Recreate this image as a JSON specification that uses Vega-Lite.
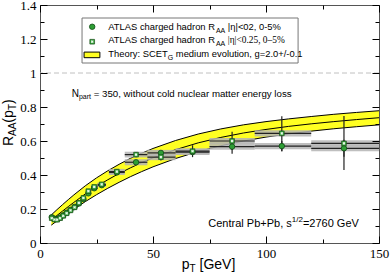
{
  "$schema": "https://vega.github.io/schema/vega-lite/v6.json",
  "autosize": "none",
  "width": 339,
  "height": 238,
  "padding": {"left": 40, "top": 5, "right": 11, "bottom": 34},
  "background": "white",
  "config": {"view": {"stroke": "#555555", "strokeWidth": 1}, "text": {"font": "Liberation Sans", "color": "black"}},
  "datasets": {
    "one": [{}],
    "band": [
      {"pt": 5, "lo": 0.105, "mid": 0.135, "hi": 0.165},
      {"pt": 7.5, "lo": 0.130, "mid": 0.162, "hi": 0.196},
      {"pt": 10, "lo": 0.153, "mid": 0.188, "hi": 0.226},
      {"pt": 12.5, "lo": 0.176, "mid": 0.214, "hi": 0.255},
      {"pt": 15, "lo": 0.199, "mid": 0.239, "hi": 0.283},
      {"pt": 20, "lo": 0.243, "mid": 0.288, "hi": 0.336},
      {"pt": 25, "lo": 0.284, "mid": 0.332, "hi": 0.383},
      {"pt": 30, "lo": 0.322, "mid": 0.372, "hi": 0.425},
      {"pt": 35, "lo": 0.357, "mid": 0.409, "hi": 0.463},
      {"pt": 40, "lo": 0.390, "mid": 0.442, "hi": 0.498},
      {"pt": 45, "lo": 0.420, "mid": 0.473, "hi": 0.528},
      {"pt": 50, "lo": 0.448, "mid": 0.501, "hi": 0.556},
      {"pt": 60, "lo": 0.497, "mid": 0.549, "hi": 0.603},
      {"pt": 70, "lo": 0.538, "mid": 0.589, "hi": 0.641},
      {"pt": 80, "lo": 0.572, "mid": 0.621, "hi": 0.671},
      {"pt": 90, "lo": 0.600, "mid": 0.647, "hi": 0.695},
      {"pt": 100, "lo": 0.623, "mid": 0.668, "hi": 0.714},
      {"pt": 110, "lo": 0.642, "mid": 0.686, "hi": 0.730},
      {"pt": 120, "lo": 0.658, "mid": 0.701, "hi": 0.744},
      {"pt": 130, "lo": 0.672, "mid": 0.714, "hi": 0.757},
      {"pt": 140, "lo": 0.684, "mid": 0.726, "hi": 0.768},
      {"pt": 150, "lo": 0.695, "mid": 0.737, "hi": 0.778}
    ],
    "pts": [
      {"s": "a", "pt": 5.2, "xlo": 4.7, "xhi": 5.8, "r": 0.152, "lo": 0.148, "hi": 0.156, "slo": 0.144, "shi": 0.160},
      {"s": "a", "pt": 6.4, "xlo": 5.8, "xhi": 7.0, "r": 0.143, "lo": 0.139, "hi": 0.147, "slo": 0.135, "shi": 0.151},
      {"s": "a", "pt": 7.6, "xlo": 7.0, "xhi": 8.2, "r": 0.141, "lo": 0.137, "hi": 0.145, "slo": 0.133, "shi": 0.149},
      {"s": "a", "pt": 8.9, "xlo": 8.2, "xhi": 9.6, "r": 0.150, "lo": 0.146, "hi": 0.154, "slo": 0.142, "shi": 0.158},
      {"s": "a", "pt": 10.3, "xlo": 9.6, "xhi": 11.0, "r": 0.163, "lo": 0.159, "hi": 0.167, "slo": 0.155, "shi": 0.171},
      {"s": "a", "pt": 11.8, "xlo": 11.0, "xhi": 12.6, "r": 0.178, "lo": 0.174, "hi": 0.182, "slo": 0.170, "shi": 0.186},
      {"s": "a", "pt": 13.5, "xlo": 12.6, "xhi": 14.4, "r": 0.195, "lo": 0.191, "hi": 0.199, "slo": 0.187, "shi": 0.203},
      {"s": "a", "pt": 15.3, "xlo": 14.4, "xhi": 16.2, "r": 0.212, "lo": 0.208, "hi": 0.216, "slo": 0.204, "shi": 0.220},
      {"s": "a", "pt": 17.2, "xlo": 16.2, "xhi": 18.2, "r": 0.232, "lo": 0.228, "hi": 0.236, "slo": 0.224, "shi": 0.240},
      {"s": "a", "pt": 19.2, "xlo": 18.2, "xhi": 20.3, "r": 0.258, "lo": 0.254, "hi": 0.262, "slo": 0.250, "shi": 0.266},
      {"s": "a", "pt": 21.4, "xlo": 20.3, "xhi": 22.6, "r": 0.292, "lo": 0.288, "hi": 0.296, "slo": 0.283, "shi": 0.301},
      {"s": "a", "pt": 24.0, "xlo": 22.6, "xhi": 25.5, "r": 0.322, "lo": 0.318, "hi": 0.326, "slo": 0.313, "shi": 0.331},
      {"s": "a", "pt": 27.3, "xlo": 25.5, "xhi": 29.2, "r": 0.340, "lo": 0.335, "hi": 0.345, "slo": 0.330, "shi": 0.350},
      {"s": "a", "pt": 34.0, "xlo": 30.5, "xhi": 37.5, "r": 0.415, "lo": 0.407, "hi": 0.423, "slo": 0.400, "shi": 0.430},
      {"s": "a", "pt": 42.5, "xlo": 37.5, "xhi": 47.5, "r": 0.475, "lo": 0.465, "hi": 0.485, "slo": 0.457, "shi": 0.493},
      {"s": "a", "pt": 53.5, "xlo": 47.5, "xhi": 60, "r": 0.530, "lo": 0.518, "hi": 0.542, "slo": 0.512, "shi": 0.548},
      {"s": "a", "pt": 67.5, "xlo": 60, "xhi": 75, "r": 0.535, "lo": 0.520, "hi": 0.550, "slo": 0.517, "shi": 0.553},
      {"s": "a", "pt": 85, "xlo": 75, "xhi": 95, "r": 0.567, "lo": 0.547, "hi": 0.587, "slo": 0.549, "shi": 0.585},
      {"s": "a", "pt": 107, "xlo": 95, "xhi": 120, "r": 0.570, "lo": 0.540, "hi": 0.600, "slo": 0.552, "shi": 0.588},
      {"s": "a", "pt": 134.5, "xlo": 120, "xhi": 150, "r": 0.557, "lo": 0.507, "hi": 0.607, "slo": 0.539, "shi": 0.575},
      {"s": "b", "pt": 5.2, "xlo": 4.7, "xhi": 5.8, "r": 0.146, "lo": 0.141, "hi": 0.151, "slo": 0.138, "shi": 0.154},
      {"s": "b", "pt": 6.4, "xlo": 5.8, "xhi": 7.0, "r": 0.138, "lo": 0.133, "hi": 0.143, "slo": 0.130, "shi": 0.146},
      {"s": "b", "pt": 7.6, "xlo": 7.0, "xhi": 8.2, "r": 0.137, "lo": 0.132, "hi": 0.142, "slo": 0.129, "shi": 0.145},
      {"s": "b", "pt": 8.9, "xlo": 8.2, "xhi": 9.6, "r": 0.146, "lo": 0.141, "hi": 0.151, "slo": 0.138, "shi": 0.154},
      {"s": "b", "pt": 10.3, "xlo": 9.6, "xhi": 11.0, "r": 0.160, "lo": 0.155, "hi": 0.165, "slo": 0.152, "shi": 0.168},
      {"s": "b", "pt": 11.8, "xlo": 11.0, "xhi": 12.6, "r": 0.175, "lo": 0.170, "hi": 0.180, "slo": 0.167, "shi": 0.183},
      {"s": "b", "pt": 13.5, "xlo": 12.6, "xhi": 14.4, "r": 0.192, "lo": 0.187, "hi": 0.197, "slo": 0.184, "shi": 0.200},
      {"s": "b", "pt": 15.3, "xlo": 14.4, "xhi": 16.2, "r": 0.210, "lo": 0.205, "hi": 0.215, "slo": 0.202, "shi": 0.218},
      {"s": "b", "pt": 17.2, "xlo": 16.2, "xhi": 18.2, "r": 0.236, "lo": 0.231, "hi": 0.241, "slo": 0.228, "shi": 0.244},
      {"s": "b", "pt": 19.2, "xlo": 18.2, "xhi": 20.3, "r": 0.265, "lo": 0.260, "hi": 0.270, "slo": 0.257, "shi": 0.273},
      {"s": "b", "pt": 21.4, "xlo": 20.3, "xhi": 22.6, "r": 0.305, "lo": 0.300, "hi": 0.310, "slo": 0.296, "shi": 0.314},
      {"s": "b", "pt": 24.0, "xlo": 22.6, "xhi": 25.5, "r": 0.330, "lo": 0.325, "hi": 0.335, "slo": 0.321, "shi": 0.339},
      {"s": "b", "pt": 27.3, "xlo": 25.5, "xhi": 29.2, "r": 0.345, "lo": 0.339, "hi": 0.351, "slo": 0.335, "shi": 0.355},
      {"s": "b", "pt": 34.0, "xlo": 30.5, "xhi": 37.5, "r": 0.420, "lo": 0.408, "hi": 0.432, "slo": 0.404, "shi": 0.436},
      {"s": "b", "pt": 42.5, "xlo": 37.5, "xhi": 47.5, "r": 0.520, "lo": 0.505, "hi": 0.535, "slo": 0.503, "shi": 0.537},
      {"s": "b", "pt": 53.5, "xlo": 47.5, "xhi": 60, "r": 0.505, "lo": 0.485, "hi": 0.525, "slo": 0.487, "shi": 0.523},
      {"s": "b", "pt": 67.5, "xlo": 60, "xhi": 75, "r": 0.540, "lo": 0.505, "hi": 0.575, "slo": 0.522, "shi": 0.558},
      {"s": "b", "pt": 85, "xlo": 75, "xhi": 95, "r": 0.600, "lo": 0.525, "hi": 0.655, "slo": 0.582, "shi": 0.618},
      {"s": "b", "pt": 107, "xlo": 95, "xhi": 120, "r": 0.645, "lo": 0.540, "hi": 0.745, "slo": 0.627, "shi": 0.663},
      {"s": "b", "pt": 134.5, "xlo": 120, "xhi": 150, "r": 0.586, "lo": 0.430, "hi": 0.747, "slo": 0.568, "shi": 0.604}
    ]
  },
  "resolve": {"axis": {"x": "independent", "y": "independent"}},
  "layer": [
    {
      "data": {"name": "band"},
      "mark": {"type": "area", "color": "#ffff22", "opacity": 1},
      "encoding": {
        "x": {"field": "pt", "type": "quantitative", "scale": {"domain": [0, 150], "nice": false, "zero": false},
          "axis": {"orient": "bottom", "title": null, "domain": false, "grid": false, "zindex": 1, "ticks": true, "values": [0, 25, 50, 75, 100, 125, 150],
            "labelExpr": "datum.value % 50 == 0 ? datum.label : ''", "labelFlush": false, "labelOverlap": false,
            "labelFont": "Liberation Serif", "labelFontSize": 13, "labelColor": "black", "labelPadding": 11,
            "tickColor": "black", "tickWidth": 1, "tickSize": -7,
            "tickDash": {"condition": {"test": "datum.value % 50 == 0", "value": [20, 1]}, "value": [4, 20]}}},
        "y": {"field": "lo", "type": "quantitative", "scale": {"domain": [0, 1.4], "nice": false, "zero": false},
          "axis": {"orient": "left", "title": null, "domain": false, "grid": false, "zindex": 1, "ticks": true, "values": [0, 0.1, 0.2, 0.3, 0.4, 0.5, 0.6, 0.7, 0.8, 0.9, 1, 1.1, 1.2, 1.3, 1.4],
            "labelExpr": "round(datum.value*10) % 2 == 0 ? format(datum.value, '~g') : ''", "labelOverlap": false,
            "labelFont": "Liberation Serif", "labelFontSize": 13, "labelColor": "black", "labelPadding": 11,
            "tickColor": "black", "tickWidth": 1, "tickSize": -7,
            "tickDash": {"condition": {"test": "round(datum.value*10) % 2 == 0", "value": [20, 1]}, "value": [4, 20]}}},
        "y2": {"field": "hi"}
      }
    },
    {
      "data": {"name": "band"},
      "mark": {"type": "point", "opacity": 0},
      "encoding": {
        "x": {"field": "pt", "type": "quantitative",
          "axis": {"orient": "top", "title": null, "domain": false, "grid": false, "zindex": 1, "ticks": true, "labels": false, "values": [0, 25, 50, 75, 100, 125, 150],
            "tickColor": "black", "tickWidth": 1, "tickSize": -7,
            "tickDash": {"condition": {"test": "datum.value % 50 == 0", "value": [20, 1]}, "value": [4, 20]}}},
        "y": {"field": "hi", "type": "quantitative",
          "axis": {"orient": "right", "title": null, "domain": false, "grid": false, "zindex": 1, "ticks": true, "labels": false, "values": [0, 0.1, 0.2, 0.3, 0.4, 0.5, 0.6, 0.7, 0.8, 0.9, 1, 1.1, 1.2, 1.3, 1.4],
            "tickColor": "black", "tickWidth": 1, "tickSize": -7,
            "tickDash": {"condition": {"test": "round(datum.value*10) % 2 == 0", "value": [20, 1]}, "value": [4, 20]}}}
      }
    },
    {
      "data": {"name": "band"},
      "mark": {"type": "line", "color": "black", "strokeWidth": 1},
      "encoding": {"x": {"field": "pt", "type": "quantitative", "axis": null}, "y": {"field": "lo", "type": "quantitative", "axis": null}}
    },
    {
      "data": {"name": "band"},
      "mark": {"type": "line", "color": "black", "strokeWidth": 1},
      "encoding": {"x": {"field": "pt", "type": "quantitative", "axis": null}, "y": {"field": "mid", "type": "quantitative", "axis": null}}
    },
    {
      "data": {"name": "band"},
      "mark": {"type": "line", "color": "black", "strokeWidth": 1},
      "encoding": {"x": {"field": "pt", "type": "quantitative", "axis": null}, "y": {"field": "hi", "type": "quantitative", "axis": null}}
    },
    {
      "data": {"name": "one"},
      "mark": {"type": "rule", "color": "#c0c0c0", "strokeDash": [5, 3], "strokeWidth": 1},
      "encoding": {"y": {"datum": 1, "axis": null}}
    },
    {
      "data": {"name": "pts"},
      "mark": {"type": "rect", "color": "#b4b4b4", "opacity": 0.85},
      "encoding": {
        "x": {"field": "xlo", "type": "quantitative", "axis": null}, "x2": {"field": "xhi"},
        "y": {"field": "slo", "type": "quantitative", "axis": null}, "y2": {"field": "shi"}
      }
    },
    {
      "data": {"name": "pts"},
      "mark": {"type": "rule", "color": "#222222", "strokeWidth": 1.2},
      "encoding": {
        "x": {"field": "xlo", "type": "quantitative", "axis": null}, "x2": {"field": "xhi"},
        "y": {"field": "r", "type": "quantitative", "axis": null}
      }
    },
    {
      "data": {"name": "pts"},
      "mark": {"type": "rule", "color": "#222222", "strokeWidth": 1.2},
      "encoding": {
        "x": {"field": "pt", "type": "quantitative", "axis": null},
        "y": {"field": "lo", "type": "quantitative", "axis": null}, "y2": {"field": "hi"}
      }
    },
    {
      "data": {"name": "pts"},
      "transform": [{"filter": "datum.s == 'a'"}],
      "mark": {"type": "point", "shape": "circle", "filled": true, "fill": "#2e9e35", "stroke": "#0f4a14", "strokeWidth": 0.8, "size": 30, "opacity": 1},
      "encoding": {"x": {"field": "pt", "type": "quantitative", "axis": null}, "y": {"field": "r", "type": "quantitative", "axis": null}}
    },
    {
      "data": {"name": "pts"},
      "transform": [{"filter": "datum.s == 'b'"}],
      "mark": {"type": "point", "shape": "square", "filled": true, "fill": "#3aa83f", "stroke": "#1a4d1a", "strokeWidth": 0.7, "size": 22, "opacity": 1},
      "encoding": {"x": {"field": "pt", "type": "quantitative", "axis": null}, "y": {"field": "r", "type": "quantitative", "axis": null}}
    },
    {
      "data": {"name": "pts"},
      "transform": [{"filter": "datum.s == 'b'"}],
      "mark": {"type": "point", "shape": "cross", "filled": true, "fill": "white", "strokeWidth": 0, "size": 8, "angle": 45, "opacity": 0.9},
      "encoding": {"x": {"field": "pt", "type": "quantitative", "axis": null}, "y": {"field": "r", "type": "quantitative", "axis": null}}
    },
    {
      "data": {"name": "one"},
      "mark": {"type": "rect", "fill": "white", "stroke": "#777777", "strokeWidth": 1},
      "encoding": {"x": {"datum": 18.6, "axis": null}, "x2": {"datum": 114.2}, "y": {"datum": 1.0588, "axis": null}, "y2": {"datum": 1.3235}}
    },
    {
      "data": {"name": "one"},
      "mark": {"type": "point", "shape": "circle", "filled": true, "fill": "#2e9e35", "stroke": "#0f4a14", "strokeWidth": 0.8, "size": 30, "opacity": 1},
      "encoding": {"x": {"datum": 23.1, "axis": null}, "y": {"datum": 1.272, "axis": null}}
    },
    {
      "data": {"name": "one"},
      "mark": {"type": "point", "shape": "square", "filled": true, "fill": "#3aa83f", "stroke": "#1a4d1a", "strokeWidth": 0.7, "size": 22, "opacity": 1},
      "encoding": {"x": {"datum": 23.1, "axis": null}, "y": {"datum": 1.184, "axis": null}}
    },
    {
      "data": {"name": "one"},
      "mark": {"type": "point", "shape": "cross", "filled": true, "fill": "white", "strokeWidth": 0, "size": 8, "angle": 45, "opacity": 0.9},
      "encoding": {"x": {"datum": 23.1, "axis": null}, "y": {"datum": 1.184, "axis": null}}
    },
    {
      "data": {"name": "one"},
      "mark": {"type": "rect", "fill": "#ffff22", "stroke": "black", "strokeWidth": 1},
      "encoding": {"x": {"datum": 19.5, "axis": null}, "x2": {"datum": 26.5}, "y": {"datum": 1.090, "axis": null}, "y2": {"datum": 1.123}}
    },
    {
      "data": {"name": "one"},
      "mark": {"type": "text", "align": "left", "baseline": "alphabetic", "fontSize": 9.4, "text": "ATLAS charged hadron R"},
      "encoding": {"x": {"datum": 30.22, "axis": null}, "y": {"datum": 1.253, "axis": null}}
    },
    {
      "data": {"name": "one"},
      "mark": {"type": "text", "align": "left", "baseline": "alphabetic", "fontSize": 7, "text": "AA"},
      "encoding": {"x": {"datum": 77.83, "axis": null}, "y": {"datum": 1.238, "axis": null}}
    },
    {
      "data": {"name": "one"},
      "mark": {"type": "text", "align": "left", "baseline": "alphabetic", "fontSize": 9.4, "text": "|η|<02, 0-5%"},
      "encoding": {"x": {"datum": 83.1, "axis": null}, "y": {"datum": 1.253, "axis": null}}
    },
    {
      "data": {"name": "one"},
      "mark": {"type": "text", "align": "left", "baseline": "alphabetic", "fontSize": 9.4, "text": "ATLAS charged hadron R"},
      "encoding": {"x": {"datum": 30.22, "axis": null}, "y": {"datum": 1.175, "axis": null}}
    },
    {
      "data": {"name": "one"},
      "mark": {"type": "text", "align": "left", "baseline": "alphabetic", "fontSize": 7, "text": "AA"},
      "encoding": {"x": {"datum": 77.83, "axis": null}, "y": {"datum": 1.160, "axis": null}}
    },
    {
      "data": {"name": "one"},
      "mark": {"type": "text", "align": "left", "baseline": "alphabetic", "fontSize": 9.4, "font": "Liberation Serif", "text": "|η|<0.25, 0–5%"},
      "encoding": {"x": {"datum": 83.1, "axis": null}, "y": {"datum": 1.175, "axis": null}}
    },
    {
      "data": {"name": "one"},
      "mark": {"type": "text", "align": "left", "baseline": "alphabetic", "fontSize": 9.4, "text": "Theory: SCET"},
      "encoding": {"x": {"datum": 30.22, "axis": null}, "y": {"datum": 1.092, "axis": null}}
    },
    {
      "data": {"name": "one"},
      "mark": {"type": "text", "align": "left", "baseline": "alphabetic", "fontSize": 7, "text": "G"},
      "encoding": {"x": {"datum": 56.56, "axis": null}, "y": {"datum": 1.077, "axis": null}}
    },
    {
      "data": {"name": "one"},
      "mark": {"type": "text", "align": "left", "baseline": "alphabetic", "fontSize": 9.4, "text": "medium evolution, g=2.0+/-0.1"},
      "encoding": {"x": {"datum": 60.1, "axis": null}, "y": {"datum": 1.092, "axis": null}}
    },
    {
      "data": {"name": "one"},
      "mark": {"type": "text", "align": "left", "baseline": "alphabetic", "fontSize": 10, "text": "N"},
      "encoding": {"x": {"datum": 14.03, "axis": null}, "y": {"datum": 0.861, "axis": null}}
    },
    {
      "data": {"name": "one"},
      "mark": {"type": "text", "align": "left", "baseline": "alphabetic", "fontSize": 7, "text": "part"},
      "encoding": {"x": {"datum": 17.21, "axis": null}, "y": {"datum": 0.846, "axis": null}}
    },
    {
      "data": {"name": "one"},
      "mark": {"type": "text", "align": "left", "baseline": "alphabetic", "fontSize": 9.7, "text": "= 350, without cold nuclear matter energy loss"},
      "encoding": {"x": {"datum": 23.76, "axis": null}, "y": {"datum": 0.861, "axis": null}}
    },
    {
      "data": {"name": "one"},
      "mark": {"type": "text", "align": "left", "baseline": "alphabetic", "fontSize": 11, "text": "Central Pb+Pb, s"},
      "encoding": {"x": {"datum": 74.47, "axis": null}, "y": {"datum": 0.092, "axis": null}}
    },
    {
      "data": {"name": "one"},
      "mark": {"type": "text", "align": "left", "baseline": "alphabetic", "fontSize": 8, "text": "1/2"},
      "encoding": {"x": {"datum": 111.42, "axis": null}, "y": {"datum": 0.1215, "axis": null}}
    },
    {
      "data": {"name": "one"},
      "mark": {"type": "text", "align": "left", "baseline": "alphabetic", "fontSize": 11, "text": "=2760 GeV"},
      "encoding": {"x": {"datum": 116.33, "axis": null}, "y": {"datum": 0.092, "axis": null}}
    },
    {
      "data": {"name": "one"},
      "mark": {"type": "text", "align": "left", "baseline": "alphabetic", "fontSize": 14, "text": "p"},
      "encoding": {"x": {"datum": 62.70, "axis": null}, "y": {"datum": -0.153, "axis": null}}
    },
    {
      "data": {"name": "one"},
      "mark": {"type": "text", "align": "left", "baseline": "alphabetic", "fontSize": 10, "text": "T"},
      "encoding": {"x": {"datum": 66.15, "axis": null}, "y": {"datum": -0.171, "axis": null}}
    },
    {
      "data": {"name": "one"},
      "mark": {"type": "text", "align": "left", "baseline": "alphabetic", "fontSize": 14, "text": "[GeV]"},
      "encoding": {"x": {"datum": 70.57, "axis": null}, "y": {"datum": -0.153, "axis": null}}
    },
    {
      "data": {"name": "one"},
      "mark": {"type": "text", "align": "left", "baseline": "alphabetic", "fontSize": 14, "angle": 270, "text": "R"},
      "encoding": {"x": {"datum": -11.95, "axis": null}, "y": {"datum": 0.5706, "axis": null}}
    },
    {
      "data": {"name": "one"},
      "mark": {"type": "text", "align": "left", "baseline": "alphabetic", "fontSize": 10, "angle": 270, "text": "AA"},
      "encoding": {"x": {"datum": -10.62, "axis": null}, "y": {"datum": 0.630, "axis": null}}
    },
    {
      "data": {"name": "one"},
      "mark": {"type": "text", "align": "left", "baseline": "alphabetic", "fontSize": 14, "angle": 270, "text": "(p"},
      "encoding": {"x": {"datum": -11.95, "axis": null}, "y": {"datum": 0.708, "axis": null}}
    },
    {
      "data": {"name": "one"},
      "mark": {"type": "text", "align": "left", "baseline": "alphabetic", "fontSize": 10, "angle": 270, "text": "T"},
      "encoding": {"x": {"datum": -10.62, "axis": null}, "y": {"datum": 0.7817, "axis": null}}
    },
    {
      "data": {"name": "one"},
      "mark": {"type": "text", "align": "left", "baseline": "alphabetic", "fontSize": 14, "angle": 270, "text": ")"},
      "encoding": {"x": {"datum": -11.95, "axis": null}, "y": {"datum": 0.8176, "axis": null}}
    }
  ]
}
